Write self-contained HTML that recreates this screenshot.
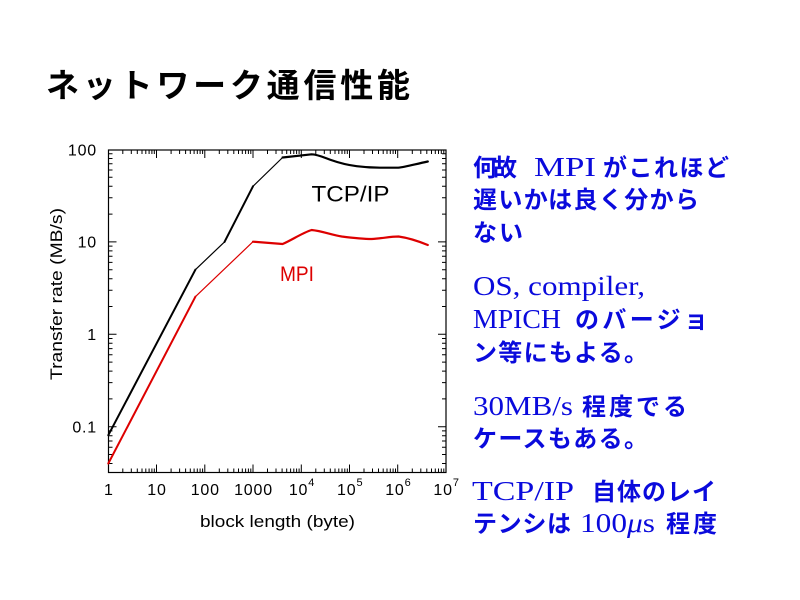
<!DOCTYPE html>
<html>
<head>
<meta charset="utf-8">
<style>
html,body{margin:0;padding:0;background:#fff;width:800px;height:600px;overflow:hidden;}
svg{position:absolute;left:0;top:0;}
.cj{font-family:"Liberation Sans","Noto Sans CJK JP",sans-serif;font-weight:bold;}
.se{font-family:"Liberation Serif","Noto Serif CJK SC",serif;}
.ax{font-family:"Liberation Sans",sans-serif;}
</style>
</head>
<body>
<svg width="800" height="600" viewBox="0 0 800 600" xmlns="http://www.w3.org/2000/svg">
<rect x="0" y="0" width="800" height="600" fill="#fff"/>

<!-- Title -->
<text class="cj" x="46" y="97" font-size="33" fill="#000" textLength="364" lengthAdjust="spacing">ネットワーク通信性能</text>

<!-- Plot frame -->
<rect x="108.5" y="150" width="337.5" height="322.5" fill="none" stroke="#000" stroke-width="1.2"/>

<!-- X ticks bottom & top -->
<path fill="none" stroke="#000" stroke-width="1" d="
M156.5 472.5v-8 M204.8 472.5v-8 M253 472.5v-8 M301.3 472.5v-8 M349.5 472.5v-8 M397.7 472.5v-8
M156.5 150v8 M204.8 150v8 M253 150v8 M301.3 150v8 M349.5 150v8 M397.7 150v8
M122.8 472.5v-4 M131.3 472.5v-4 M137.3 472.5v-4 M142 472.5v-4 M145.8 472.5v-4 M149.1 472.5v-4 M151.9 472.5v-4 M154.3 472.5v-4
M171.1 472.5v-4 M179.6 472.5v-4 M185.6 472.5v-4 M190.3 472.5v-4 M194.1 472.5v-4 M197.3 472.5v-4 M200.1 472.5v-4 M202.6 472.5v-4
M219.3 472.5v-4 M227.8 472.5v-4 M233.8 472.5v-4 M238.5 472.5v-4 M242.3 472.5v-4 M245.6 472.5v-4 M248.4 472.5v-4 M250.8 472.5v-4
M267.5 472.5v-4 M276 472.5v-4 M282.1 472.5v-4 M286.7 472.5v-4 M290.6 472.5v-4 M293.8 472.5v-4 M296.6 472.5v-4 M299.1 472.5v-4
M315.8 472.5v-4 M324.3 472.5v-4 M330.3 472.5v-4 M335 472.5v-4 M338.8 472.5v-4 M342 472.5v-4 M344.8 472.5v-4 M347.3 472.5v-4
M364 472.5v-4 M372.5 472.5v-4 M378.5 472.5v-4 M383.2 472.5v-4 M387 472.5v-4 M390.3 472.5v-4 M393.1 472.5v-4 M395.5 472.5v-4
M412.3 472.5v-4 M420.8 472.5v-4 M426.8 472.5v-4 M431.5 472.5v-4 M435.3 472.5v-4 M438.5 472.5v-4 M441.3 472.5v-4 M443.8 472.5v-4
M122.8 150v4 M131.3 150v4 M137.3 150v4 M142 150v4 M145.8 150v4 M149.1 150v4 M151.9 150v4 M154.3 150v4
M171.1 150v4 M179.6 150v4 M185.6 150v4 M190.3 150v4 M194.1 150v4 M197.3 150v4 M200.1 150v4 M202.6 150v4
M219.3 150v4 M227.8 150v4 M233.8 150v4 M238.5 150v4 M242.3 150v4 M245.6 150v4 M248.4 150v4 M250.8 150v4
M267.5 150v4 M276 150v4 M282.1 150v4 M286.7 150v4 M290.6 150v4 M293.8 150v4 M296.6 150v4 M299.1 150v4
M315.8 150v4 M324.3 150v4 M330.3 150v4 M335 150v4 M338.8 150v4 M342 150v4 M344.8 150v4 M347.3 150v4
M364 150v4 M372.5 150v4 M378.5 150v4 M383.2 150v4 M387 150v4 M390.3 150v4 M393.1 150v4 M395.5 150v4
M412.3 150v4 M420.8 150v4 M426.8 150v4 M431.5 150v4 M435.3 150v4 M438.5 150v4 M441.3 150v4 M443.8 150v4
"/>

<!-- Y ticks left & right -->
<path fill="none" stroke="#000" stroke-width="1" d="
M108.5 426.7h8 M108.5 334.3h8 M108.5 241.9h8
M446 426.7h-8 M446 334.3h-8 M446 241.9h-8
M108.5 463.5h4 M108.5 454.5h4 M108.5 447.2h4 M108.5 441h4 M108.5 435.7h4 M108.5 430.9h4
M108.5 398.9h4 M108.5 382.6h4 M108.5 371.1h4 M108.5 362.1h4 M108.5 354.8h4 M108.5 348.6h4 M108.5 343.3h4 M108.5 338.5h4
M108.5 306.5h4 M108.5 290.2h4 M108.5 278.7h4 M108.5 269.7h4 M108.5 262.4h4 M108.5 256.2h4 M108.5 250.9h4 M108.5 246.1h4
M108.5 214.1h4 M108.5 197.8h4 M108.5 186.3h4 M108.5 177.3h4 M108.5 170h4 M108.5 163.8h4 M108.5 158.5h4 M108.5 153.7h4
M446 463.5h-4 M446 454.5h-4 M446 447.2h-4 M446 441h-4 M446 435.7h-4 M446 430.9h-4
M446 398.9h-4 M446 382.6h-4 M446 371.1h-4 M446 362.1h-4 M446 354.8h-4 M446 348.6h-4 M446 343.3h-4 M446 338.5h-4
M446 306.5h-4 M446 290.2h-4 M446 278.7h-4 M446 269.7h-4 M446 262.4h-4 M446 256.2h-4 M446 250.9h-4 M446 246.1h-4
M446 214.1h-4 M446 197.8h-4 M446 186.3h-4 M446 177.3h-4 M446 170h-4 M446 163.8h-4 M446 158.5h-4 M446 153.7h-4
"/>

<!-- Y tick labels -->
<g class="ax" font-size="16" fill="#000" text-anchor="end" letter-spacing="0.8">
<text x="97" y="155.3">100</text>
<text x="97" y="247.7">10</text>
<text x="97" y="340.1">1</text>
<text x="97" y="432.5">0.1</text>
</g>

<!-- X tick labels -->
<g class="ax" font-size="16" fill="#000" text-anchor="middle" letter-spacing="0.8">
<text x="108.8" y="495">1</text>
<text x="157" y="495">10</text>
<text x="205.3" y="495">100</text>
<text x="253.5" y="495">1000</text>
<text x="302" y="495">10<tspan dy="-9" font-size="11">4</tspan></text>
<text x="350.2" y="495">10<tspan dy="-9" font-size="11">5</tspan></text>
<text x="398.4" y="495">10<tspan dy="-9" font-size="11">6</tspan></text>
<text x="446.6" y="495">10<tspan dy="-9" font-size="11">7</tspan></text>
</g>

<!-- Axis titles -->
<text class="ax" x="200" y="527" font-size="16.5" fill="#000" textLength="155" lengthAdjust="spacingAndGlyphs">block length (byte)</text>
<text class="ax" font-size="17" fill="#000" textLength="172" lengthAdjust="spacingAndGlyphs" transform="translate(62,380) rotate(-90)" x="0" y="0">Transfer rate (MB/s)</text>

<!-- TCP/IP curve -->
<g fill="none" stroke="#000" stroke-linejoin="round" stroke-linecap="round">
<path stroke-width="2" d="M108.3 435.2 L195.4 269.7"/>
<path stroke-width="1.2" d="M195.4 269.7 L224.5 241.9"/>
<path stroke-width="2" d="M224.5 241.9 L253 186.3"/>
<path stroke-width="1.2" d="M253 186.3 L282.6 157.5"/>
<path stroke-width="2.2" d="M282.6 157.5 L311.6 154.3 C318 154.5 324 157.5 331 160 C338 162.5 346 164.8 356.7 166.2 C365 167.3 372 167.7 380 167.7 L398.3 167.7 C405 167 413 164.7 427.8 161.5"/>
</g>

<!-- MPI curve -->
<g fill="none" stroke="#dd0000" stroke-linejoin="round" stroke-linecap="round">
<path stroke-width="2" d="M108.3 463.5 L195.4 296.7"/>
<path stroke-width="1.2" d="M195.4 296.7 L253 241.7"/>
<path stroke-width="2.2" d="M253 241.7 L282.6 244 C292 240 302 233 311.6 230 C322 231 332 235 341.7 236.5 C352 237.8 362 239 371.7 239 C382 238.5 390 236.5 398.5 236.5 C408 237.8 418 241 427.8 245"/>
</g>

<!-- Curve labels -->
<text class="ax" x="311.5" y="201.7" font-size="22" fill="#000" textLength="78" lengthAdjust="spacingAndGlyphs">TCP/IP</text>
<text class="ax" x="280" y="281" font-size="21" fill="#dd0000" textLength="34" lengthAdjust="spacingAndGlyphs">MPI</text>

<!-- Right-hand text -->
<g fill="#0a0adc" font-size="24">
<text class="cj" x="473" y="176" textLength="44" lengthAdjust="spacing">何故</text>
<text class="se" x="534" y="176" font-size="27" textLength="62" lengthAdjust="spacingAndGlyphs">MPI</text>
<text class="cj" x="603" y="176" textLength="126" lengthAdjust="spacing">がこれほど</text>

<text class="cj" x="473" y="208" textLength="226" lengthAdjust="spacing">遅いかは良く分から</text>
<text class="cj" x="473" y="241" textLength="50" lengthAdjust="spacing">ない</text>

<text class="se" x="473" y="295" font-size="27" textLength="172" lengthAdjust="spacingAndGlyphs">OS, compiler,</text>
<text class="se" x="473" y="328" font-size="27" textLength="88" lengthAdjust="spacingAndGlyphs">MPICH</text>
<text class="cj" x="575" y="328" textLength="133" lengthAdjust="spacing">のバージョ</text>
<text class="cj" x="473" y="361" textLength="175" lengthAdjust="spacing">ン等にもよる。</text>

<text class="se" x="473" y="415" font-size="27" textLength="100" lengthAdjust="spacingAndGlyphs">30MB/s</text>
<text class="cj" x="582" y="415" textLength="105" lengthAdjust="spacing">程度でる</text>
<text class="cj" x="473" y="447" textLength="175" lengthAdjust="spacing">ケースもある。</text>

<text class="se" x="472" y="500" font-size="27" textLength="102" lengthAdjust="spacingAndGlyphs">TCP/IP</text>
<text class="cj" x="592" y="500" textLength="124" lengthAdjust="spacing">自体のレイ</text>
<text class="cj" x="473" y="532" textLength="98" lengthAdjust="spacing">テンシは</text>
<text class="se" x="580" y="532" font-size="27" textLength="75" lengthAdjust="spacingAndGlyphs">100<tspan font-style="italic">μ</tspan>s</text>
<text class="cj" x="666" y="532" textLength="51" lengthAdjust="spacing">程度</text>
</g>
</svg>
</body>
</html>
